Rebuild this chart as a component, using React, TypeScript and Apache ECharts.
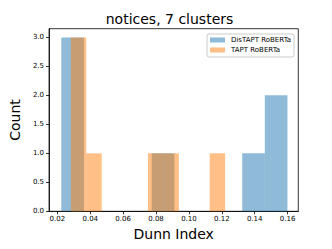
import React, { useEffect, useRef } from "react";
import * as echarts from "echarts";

const titleText = "notices, 7 clusters";
const xName = "Dunn Index";
const yName = "Count";
const seriesNames = ["DisTAPT RoBERTa", "TAPT RoBERTa"];
const seriesColors = ["#1f77b4", "#ff7f0e"];

// histogram: range of data and counts per each of 10 bins
const disRange = [0.0224, 0.1599];
const disCounts = [3, 0, 0, 0, 1, 0, 0, 0, 1, 2];
const taptRange = [0.0282, 0.122];
const taptCounts = [3, 1, 0, 0, 0, 1, 1, 0, 0, 1];

const xTicks = [0.02, 0.04, 0.06, 0.08, 0.1, 0.12, 0.14, 0.16];
const yTicks = [0, 0.5, 1.0, 1.5, 2.0, 2.5, 3.0];

const FONT = "DejaVu Sans";

function toBins(range: number[], counts: number[]) {
  const w = (range[1] - range[0]) / counts.length;
  const out: number[][] = [];
  counts.forEach((c, i) => {
    if (c > 0) out.push([range[0] + i * w, range[0] + (i + 1) * w, c]);
  });
  return out;
}

export default function App() {
  const ref = useRef<HTMLDivElement>(null);
  useEffect(() => {
    if (!ref.current) return;
    const chart = echarts.init(ref.current, null, { renderer: "svg" });
    const renderItem = (params: any, api: any) => {
      const p0 = api.coord([api.value(0), api.value(2)]);
      const p1 = api.coord([api.value(1), 0]);
      return {
        type: "rect",
        shape: { x: p0[0], y: p0[1], width: p1[0] - p0[0], height: p1[1] - p0[1] },
        style: { fill: seriesColors[params.seriesIndex], opacity: 0.5 },
      };
    };
    const datasets = [toBins(disRange, disCounts), toBins(taptRange, taptCounts)];
    chart.setOption({
      animation: false,
      backgroundColor: "#ffffff",
      title: {
        text: titleText,
        left: 169.5,
        textAlign: "center",
        top: 12,
        padding: 0,
        textStyle: { fontFamily: FONT, fontSize: 14, fontWeight: "normal", color: "#000" },
      },
      legend: {
        orient: "vertical",
        left: 207,
        top: 34,
        padding: [2, 3, 3, 3],
        itemGap: 2,
        itemWidth: 15,
        itemHeight: 5,
        borderColor: "#cccccc",
        borderWidth: 1,
        borderRadius: 2,
        backgroundColor: "#ffffff",
        data: seriesNames.map((n, i) => ({
          name: n,
          icon: "rect",
          itemStyle: { color: seriesColors[i], opacity: 0.5 },
        })),
        textStyle: { fontFamily: FONT, fontSize: 7, color: "#000", lineHeight: 8, padding: [0, 0, 0, 1] },
      },
      grid: {
        left: 40.7,
        right: 33.7,
        top: 28.7,
        bottom: 37.7,
        show: true,
        borderColor: "#000",
        borderWidth: 0.8,
        backgroundColor: "transparent",
      },
      xAxis: {
        type: "value",
        min: 0.01494,
        max: 0.1665,
        name: xName,
        nameLocation: "middle",
        nameGap: 13,
        nameTextStyle: { fontFamily: FONT, fontSize: 14, color: "#000" },
        splitLine: { show: false },
        axisLine: { show: true, lineStyle: { color: "#000", width: 0.8 } },
        axisTick: { show: true, length: 3, customValues: xTicks, lineStyle: { color: "#000", width: 0.8 } },
        axisLabel: {
          customValues: xTicks,
          margin: 4,
          fontFamily: FONT,
          fontSize: 7,
          color: "#000",
          formatter: (v: number) => v.toFixed(2),
        },
      },
      yAxis: {
        type: "value",
        min: 0,
        max: 3.15,
        name: yName,
        nameLocation: "middle",
        nameGap: 19,
        nameTextStyle: { fontFamily: FONT, fontSize: 14, color: "#000" },
        splitLine: { show: false },
        axisLine: { show: true, lineStyle: { color: "#000", width: 0.8 } },
        axisTick: { show: true, length: 3, customValues: yTicks, lineStyle: { color: "#000", width: 0.8 } },
        axisLabel: {
          customValues: yTicks,
          margin: 5,
          fontFamily: FONT,
          fontSize: 7,
          color: "#000",
          formatter: (v: number) => v.toFixed(1),
        },
      },
      series: seriesNames.map((n, i) => ({
        name: n,
        type: "custom",
        renderItem,
        itemStyle: { color: seriesColors[i], opacity: 0.5 },
        encode: { x: [0, 1], y: 2 },
        data: datasets[i],
      })),
    });
    return () => chart.dispose();
  }, []);
  return <div ref={ref} style={{ width: 332, height: 249, position: "absolute", left: 0, top: 0 }} />;
}
